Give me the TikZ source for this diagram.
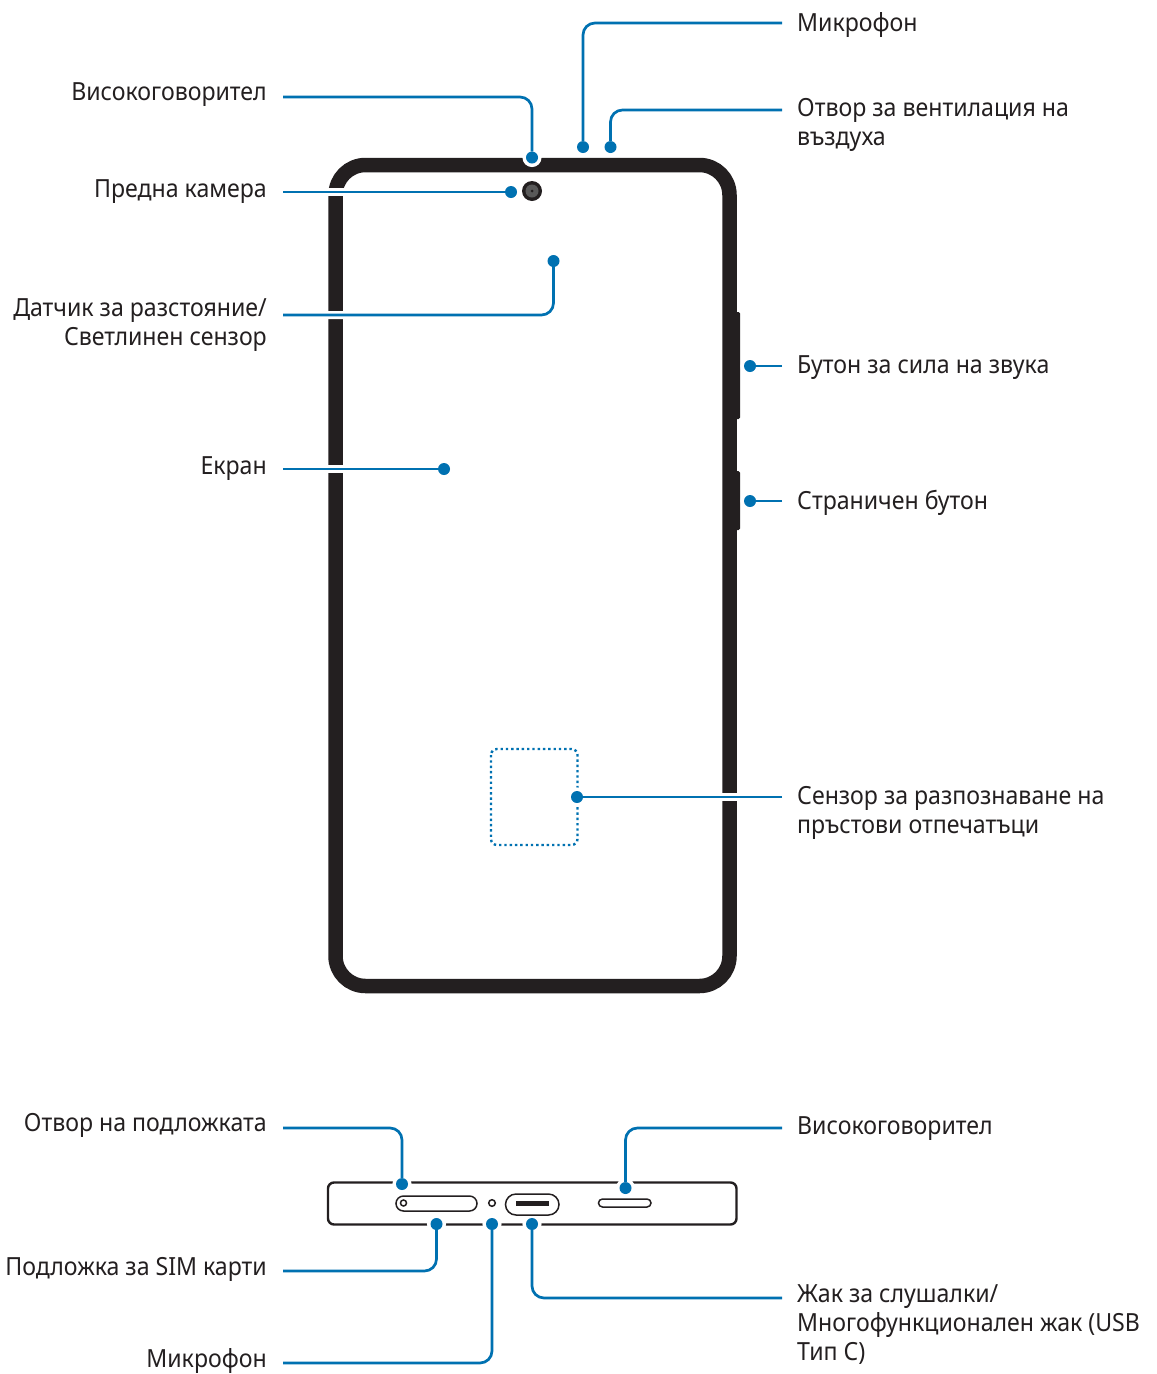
\documentclass[tikz,border=0pt]{standalone}
\usepackage{fontspec}
\setmainfont[FakeStretch=0.925]{Noto Sans}
\definecolor{leadblue}{HTML}{0071B1}
\definecolor{phoneblack}{HTML}{231F20}
\tikzset{
  dot/.style={circle,fill=leadblue,minimum size=12,inner sep=0,outer sep=0,preaction={draw=white,line width=7}},
  lead/.style={draw=leadblue,line width=2.7,rounded corners=12,preaction={draw=white,line width=8}},
  lbl/.style={inner sep=0,text=phoneblack,font=\fontsize{25}{29}\selectfont},
  lbll/.style={lbl,anchor=north east,align=right},
  lblr/.style={lbl,anchor=north west,align=left},
  part/.style={draw=phoneblack,line width=1.5}
}
\begin{document}
\begin{tikzpicture}[x=1pt,y=-1pt]
\useasboundingbox (0,0) rectangle (1157,1374);

% Telefon, otpred
\draw[phoneblack,line width=14.5,rounded corners=30] (335.5,165) rectangle (729.5,986);
\fill[phoneblack,rounded corners=1.5] (735,312) rectangle (740,419);
\fill[phoneblack,rounded corners=1.5] (735,471) rectangle (740,530);

% Kamera
\fill[phoneblack] (532,191) circle (10);
\fill[black!65] (532,191) circle (6.5);
\fill[phoneblack] (532,191) circle (1.5);

% Otpechatak
\draw[leadblue,line width=2.4,dash pattern=on 2.4 off 2.9,rounded corners=6] (491,749) rectangle (577.5,845);

% Telefon, otdolu
\draw[phoneblack,line width=2.4,rounded corners=6] (328,1182.5) rectangle (736.5,1224.5);

% Tochki
\node[dot] (dspeaker) at (532,157.5) {};
\node[dot] (dmic) at (583,147) {};
\node[dot] (dvent) at (610.5,147) {};
\node[dot] (dfront) at (511,192) {};
\node[dot] (dprox) at (553.5,261) {};
\node[dot] (dscreen) at (444,469) {};
\node[dot] (dvolume) at (750,366) {};
\node[dot] (dside) at (750,501) {};
\node[dot] (dfinger) at (577,797) {};
\node[dot] (dtray) at (402,1184) {};
\node[dot] (dbspeaker) at (625.5,1188) {};
\node[dot] (dsim) at (436.5,1224) {};
\node[dot] (dbmic) at (492,1224) {};
\node[dot] (djack) at (532,1224) {};

% Otvori
\draw[part,rounded corners=7.5] (396,1196) rectangle (477,1211);
\draw[part] (403.5,1203) circle (3);
\draw[part] (492,1203) circle (3.3);
\draw[part,rounded corners=10.5] (505.5,1194) rectangle (559,1215);
\fill[phoneblack] (516,1201) rectangle (549,1206);
\draw[part,rounded corners=4] (598.5,1199) rectangle (651,1207);

% Kraishta na liniite
\coordinate (espeaker) at (283,97);
\coordinate (emic) at (782,23);
\coordinate (event) at (782,110);
\coordinate (efront) at (283,192);
\coordinate (eprox) at (283,315);
\coordinate (escreen) at (283,469);
\coordinate (evolume) at (782,366);
\coordinate (eside) at (782,501);
\coordinate (efinger) at (782,797);
\coordinate (etray) at (283,1128);
\coordinate (ebspeaker) at (782,1128);
\coordinate (esim) at (283,1271);
\coordinate (ebmic) at (283,1363);
\coordinate (ejack) at (782,1298);

% Linii
\draw[lead] (espeaker) -| (dspeaker);
\draw[lead] (emic) -| (dmic);
\draw[lead] (event) -| (dvent);
\draw[lead] (efront) -- (dfront);
\draw[lead] (eprox) -| (dprox);
\draw[lead] (escreen) -- (dscreen);
\draw[lead] (evolume) -- (dvolume);
\draw[lead] (eside) -- (dside);
\draw[lead] (efinger) -- (dfinger);
\draw[lead] (etray) -| (dtray);
\draw[lead] (ebspeaker) -| (dbspeaker);
\draw[lead] (esim) -| (dsim);
\draw[lead] (ebmic) -| (dbmic);
\draw[lead] (ejack) -| (djack);

% Nadpisi
\node[lbll] (lspeaker) at (267,82) {Високоговорител};
\node[lbll] (lfront) at (267,179.5) {Предна камера};
\node[lbll] (lprox) at (267,298.5) {Датчик за разстояние/\\Светлинен сензор};
\node[lbll] (lscreen) at (267,456.5) {Екран};
\node[lbll] (ltray) at (267,1113.5) {Отвор на подложката};
\node[lbll] (lsim) at (267,1257.5) {Подложка за SIM карти};
\node[lbll] (lbmic) at (267,1348) {Микрофон};
\node[lblr] (lmic) at (797,12.5) {Микрофон};
\node[lblr] (lvent) at (797,98.5) {Отвор за вентилация на\\въздуха};
\node[lblr] (lvolume) at (797,355.5) {Бутон за сила на звука};
\node[lblr] (lside) at (797,490) {Страничен бутон};
\node[lblr] (lfinger) at (797,786.5) {Сензор за разпознаване на\\пръстови отпечатъци};
\node[lblr] (lbspeaker) at (797,1116) {Високоговорител};
\node[lblr] (ljack) at (797,1284.5) {Жак за слушалки/\\Многофункционален жак (USB\\Тип C)};
\end{tikzpicture}
\end{document}
